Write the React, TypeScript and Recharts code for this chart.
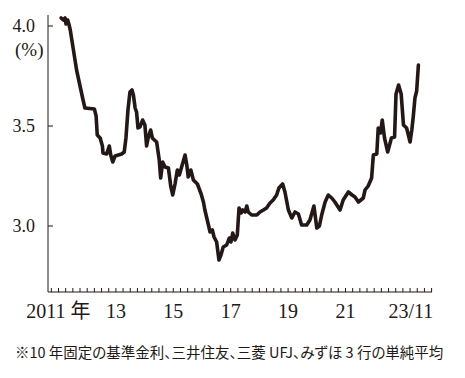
import React from "react";
import { LineChart, Line, XAxis, YAxis } from "recharts";

const dates = [
  2011.09, 2011.17, 2011.23, 2011.26, 2011.32, 2011.37, 2011.41, 2011.52, 2011.63, 2011.78,
  2011.84, 2011.92, 2012.25, 2012.31, 2012.35, 2012.45, 2012.53, 2012.55, 2012.68, 2012.77,
  2012.82, 2012.89, 2012.97, 2013.2, 2013.29, 2013.35, 2013.42, 2013.49, 2013.56, 2013.61,
  2013.67, 2013.72, 2013.77, 2013.84, 2013.93, 2014.01, 2014.07, 2014.13, 2014.21, 2014.27,
  2014.34, 2014.42, 2014.51, 2014.56, 2014.63, 2014.71, 2014.83, 2014.91, 2014.98, 2015.06,
  2015.14, 2015.21, 2015.29, 2015.41, 2015.47, 2015.52, 2015.61, 2015.7, 2015.84, 2015.97,
  2016.05, 2016.1, 2016.2, 2016.28, 2016.36, 2016.42, 2016.51, 2016.59, 2016.66, 2016.74,
  2016.86, 2016.95, 2017.01, 2017.07, 2017.15, 2017.23, 2017.29, 2017.36, 2017.42, 2017.5,
  2017.56, 2017.61, 2017.73, 2017.91, 2018.02, 2018.14, 2018.25, 2018.37, 2018.48, 2018.6,
  2018.68, 2018.81, 2018.89, 2019.01, 2019.13, 2019.24, 2019.36, 2019.47, 2019.65, 2019.76,
  2019.9, 2020.0, 2020.09, 2020.17, 2020.29, 2020.4, 2020.52, 2020.63, 2020.81, 2020.92,
  2021.1, 2021.23, 2021.33, 2021.45, 2021.62, 2021.68, 2021.79, 2021.91, 2021.97, 2022.09,
  2022.14, 2022.22, 2022.28, 2022.36, 2022.47, 2022.6, 2022.71, 2022.76, 2022.85, 2022.94,
  2023.02, 2023.13, 2023.25, 2023.31, 2023.36, 2023.42, 2023.48, 2023.54,
];

const rates = [
  4.04, 4.03, 4.04, 4.01, 4.03, 4.005, 3.98, 3.88, 3.78, 3.68,
  3.64, 3.59, 3.585, 3.55, 3.455, 3.44, 3.4, 3.365, 3.36, 3.4,
  3.355, 3.32, 3.35, 3.36, 3.37, 3.44, 3.58, 3.67, 3.68, 3.655,
  3.59, 3.57, 3.49, 3.495, 3.53, 3.505, 3.4, 3.445, 3.48, 3.44,
  3.43, 3.42, 3.33, 3.24, 3.32, 3.295, 3.29, 3.2, 3.155, 3.21,
  3.28, 3.255, 3.295, 3.355, 3.305, 3.245, 3.28, 3.23, 3.21, 3.16,
  3.12, 3.08, 3.02, 2.97, 2.98, 2.945, 2.92, 2.83, 2.855, 2.895,
  2.905, 2.94, 2.92, 2.965, 2.93, 2.955, 3.09, 3.065, 3.08, 3.07,
  3.1, 3.07, 3.055, 3.055, 3.07, 3.08, 3.09, 3.115, 3.13, 3.155,
  3.19, 3.21, 3.17, 3.08, 3.04, 3.07, 3.06, 3.005, 3.005, 3.03,
  3.1, 2.99, 3.0, 3.055, 3.12, 3.155, 3.14, 3.12, 3.08, 3.13,
  3.17, 3.155, 3.145, 3.12, 3.14, 3.18, 3.2, 3.24, 3.355, 3.36,
  3.49, 3.465, 3.53, 3.44, 3.37, 3.44, 3.445, 3.66, 3.705, 3.66,
  3.505, 3.49, 3.42, 3.48, 3.545, 3.64, 3.675, 3.805,
];

const labelYears = [2011, 2013, 2015, 2017, 2019, 2021, 2023];
const xTickLabels = ["2011 年", "13", "15", "17", "19", "21", "23/11"];
const yTicks = [3.0, 3.5, 4.0];
const yTickLabels = ["3.0", "3.5", "4.0"];
const caption = "※10 年固定の基準金利、三井住友、三菱 UFJ、みずほ 3 行の単純平均";
const unitLabel = "(%)";

const data = dates.map((d, i) => ({ date: d, rate: rates[i] }));

// quarterly minor ticks along the bottom axis
const quarterTicks: number[] = [];
for (let q = 2010.75; q <= 2024.001; q += 0.25) quarterTicks.push(Math.round(q * 100) / 100);

const INK = "#231815";
const SERIF = "'Liberation Serif', 'Times New Roman', 'Noto Sans CJK JP', serif";

const XTick = (props: any) => {
  const { x, y, payload } = props;
  const v = payload.value;
  const idx = labelYears.findIndex((yy) => Math.abs(yy - v) < 0.001);
  return (
    <g>
      <line x1={x} y1={y} x2={x} y2={y - 4} stroke={INK} strokeWidth={1} />
      {idx >= 0 && (
        <text
          x={x + (idx === labelYears.length - 1 ? 8 : 0)}
          y={y + 26}
          textAnchor="middle"
          fontSize={20}
          fontFamily={SERIF}
          fill={INK}
        >
          {xTickLabels[idx]}
        </text>
      )}
    </g>
  );
};

const YTick = (props: any) => {
  const { x, y, payload } = props;
  const idx = yTicks.findIndex((t) => Math.abs(t - payload.value) < 0.001);
  return (
    <g>
      <line x1={x} y1={y} x2={x + 5} y2={y} stroke={INK} strokeWidth={1} />
      <text
        x={x - 13}
        y={y + 6}
        textAnchor="end"
        fontSize={18}
        fontFamily={SERIF}
        fill={INK}
      >
        {idx >= 0 ? yTickLabels[idx] : ""}
      </text>
    </g>
  );
};

export default function App() {
  return (
    <div style={{ position: "absolute", left: 0, top: 0, width: 465, height: 378, background: "#fff" }}>
      <LineChart
        width={465}
        height={378}
        data={data}
        margin={{ top: 15, right: 33, bottom: 0, left: 0 }}
      >
        <XAxis
          dataKey="date"
          type="number"
          domain={[2010.634, 2024.014]}
          ticks={quarterTicks}
          interval={0}
          height={86}
          tickSize={0}
          tickMargin={0}
          tickLine={false}
          axisLine={{ stroke: INK, strokeWidth: 1 }}
          tick={<XTick />}
          allowDataOverflow
        />
        <YAxis
          type="number"
          domain={[2.67, 4.055]}
          ticks={yTicks}
          interval={0}
          width={48}
          tickSize={0}
          tickMargin={0}
          tickLine={false}
          axisLine={{ stroke: INK, strokeWidth: 1 }}
          tick={<YTick />}
          allowDataOverflow
        />
        <Line
          type="linear"
          dataKey="rate"
          stroke={INK}
          strokeWidth={3.6}
          strokeLinejoin="round"
          strokeLinecap="round"
          dot={false}
          activeDot={false}
          isAnimationActive={false}
        />
      </LineChart>
      <div
        style={{
          position: "absolute",
          left: 15,
          top: 40,
          fontFamily: SERIF,
          fontSize: 19,
          color: INK,
          lineHeight: "19px",
        }}
      >
        {unitLabel}
      </div>
      <div
        style={{
          position: "absolute",
          left: 15,
          top: 342,
          fontFamily: "'Noto Sans CJK JP', sans-serif",
          fontSize: 14.5,
          fontFeatureSettings: '"palt"',
          color: INK,
          lineHeight: "19px",
          whiteSpace: "nowrap",
        }}
      >
        {caption}
      </div>
    </div>
  );
}
